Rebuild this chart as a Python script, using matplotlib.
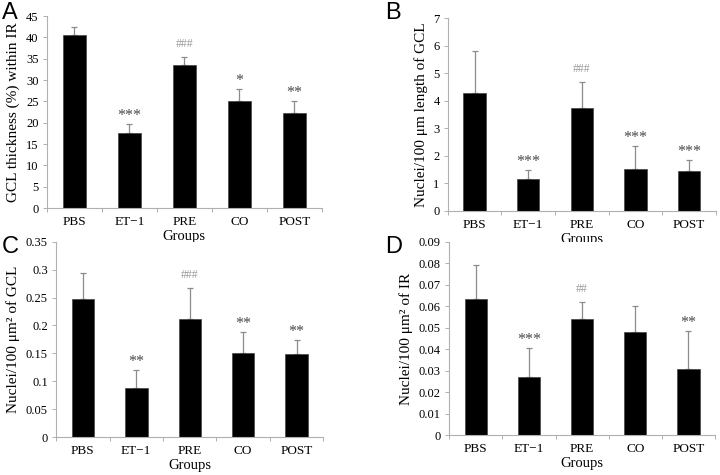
import matplotlib
matplotlib.use('Agg')
import matplotlib.pyplot as plt
import numpy as np

plt.rcParams['font.family'] = ['Liberation Serif', 'DejaVu Serif']

groups = ['PBS', 'ET−1', 'PRE', 'CO', 'POST']

# panel A - GCL thickness
gcl_mean = [40.5, 17.7, 33.6, 25.0, 22.4]
gcl_err = [2.0, 1.9, 1.9, 3.0, 2.6]
gcl_sig = ['', '***', '###', '*', '**']

# panel B - nuclei per 100 um length
len_mean = [4.27, 1.17, 3.73, 1.52, 1.44]
len_err = [1.55, 0.33, 0.94, 0.85, 0.41]
len_sig = ['', '***', '###', '***', '***']

# panel C - nuclei per 100 um2 of GCL
gcl_area_mean = [0.248, 0.088, 0.212, 0.150, 0.148]
gcl_area_err = [0.046, 0.032, 0.055, 0.038, 0.026]
gcl_area_sig = ['', '**', '###', '**', '**']

# panel D - nuclei per 100 um2 of IR
ir_area_mean = [0.0633, 0.027, 0.054, 0.048, 0.031]
ir_area_err = [0.0157, 0.0135, 0.008, 0.012, 0.0175]
ir_area_sig = ['', '***', '##', '', '**']

panels = [
    ('A', gcl_mean, gcl_err, gcl_sig, 'GCL thickness (%) within IR', 45, 5,
     [0.065, 0.562, 0.382, 0.404], (0.003, 0.995)),
    ('B', len_mean, len_err, len_sig, 'Nuclei/100 μm length of GCL', 7, 1,
     [0.622, 0.556, 0.372, 0.406], (0.535, 0.995)),
    ('C', gcl_area_mean, gcl_area_err, gcl_area_sig, 'Nuclei/100 μm² of GCL', 0.35, 0.05,
     [0.078, 0.080, 0.371, 0.411], (0.003, 0.503)),
    ('D', ir_area_mean, ir_area_err, ir_area_sig, 'Nuclei/100 μm² of IR', 0.09, 0.01,
     [0.624, 0.084, 0.369, 0.407], (0.535, 0.503)),
]

fig = plt.figure(figsize=(7.2, 4.75), dpi=100)
x = np.arange(len(groups))

for letter, mean, err, sig, ylab, ymax, step, rect, lpos in panels:
    ax = fig.add_axes(rect)
    ax.bar(x, mean, width=0.42, color='black', edgecolor='#444444', linewidth=0.5, zorder=2)
    ax.errorbar(x, mean, yerr=[np.zeros(len(err)), err], fmt='none',
                ecolor='#8c8c8c', elinewidth=0.9, capsize=2.5, capthick=0.9, zorder=1)
    for xi, m, e, s in zip(x, mean, err, sig):
        if not s:
            continue
        if '#' in s:
            ax.annotate(s, (xi, m + e), xytext=(0, 5), textcoords='offset points',
                        ha='center', va='bottom', fontsize=8.5, color='#9a9a9a')
        else:
            ax.annotate(s, (xi, m + e), xytext=(0, 0), textcoords='offset points',
                        ha='center', va='bottom', fontsize=11.5, color='#4a4a4a')

    ax.set_xlim(-0.5, len(groups) - 0.5)
    ax.set_ylim(0, ymax)
    ticks = np.round(np.arange(0, ymax + step / 2, step), 3)
    ax.set_yticks(ticks)
    ax.set_yticklabels([f'{t:g}' for t in ticks])
    ax.set_xticks(x)
    ax.set_xticklabels(groups)
    ax.set_xticks(np.arange(-0.5, len(groups)), minor=True)
    ax.tick_params(axis='x', which='major', length=0, pad=6, labelsize=9.5)
    ax.tick_params(axis='x', which='minor', length=3, color='#b0b0b0', width=0.7)
    ax.tick_params(axis='y', length=3, color='#b0b0b0', width=0.7, labelsize=9, pad=3)
    for side in ['top', 'right']:
        ax.spines[side].set_visible(False)
    for side in ['left', 'bottom']:
        ax.spines[side].set_color('#b0b0b0')
        ax.spines[side].set_linewidth(0.8)
    ax.set_ylabel(ylab, fontsize=11)
    ax.set_xlabel('Groups', fontsize=10.5, labelpad=1)
    fig.text(lpos[0], lpos[1], letter, fontsize=17, family='Liberation Sans', ha='left', va='top')

fig.savefig('out.png', dpi=100)
